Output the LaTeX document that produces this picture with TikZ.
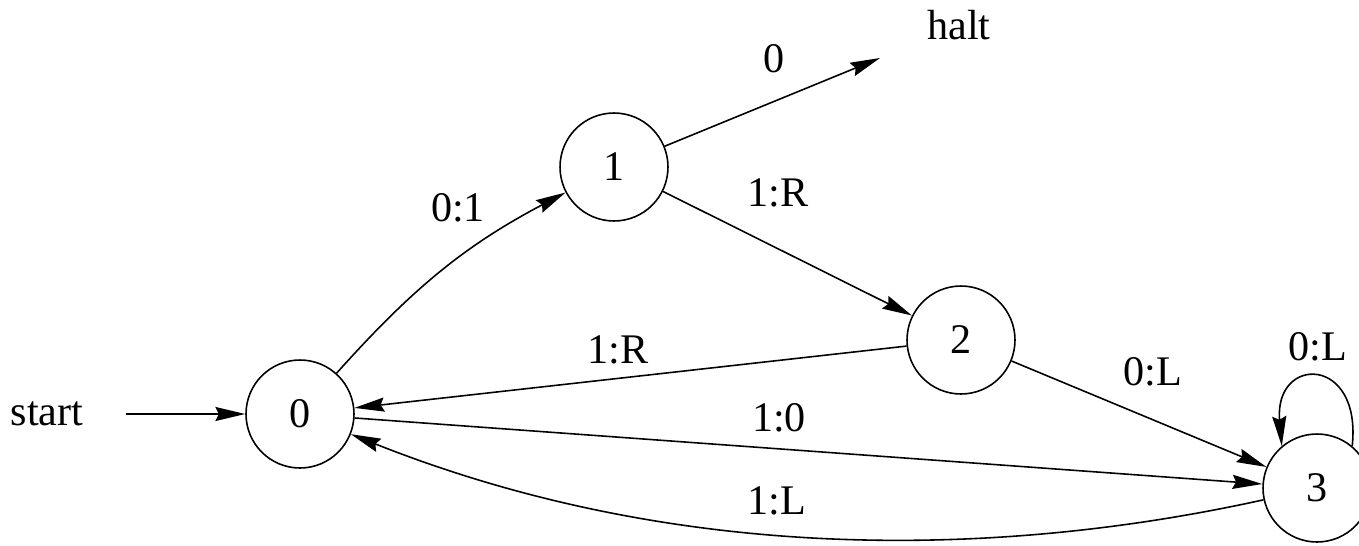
\documentclass[tikz,border=0pt]{standalone}
\usepackage{fontspec}
\setmainfont{Liberation Serif}
\usetikzlibrary{arrows.meta}
\begin{document}
\begin{tikzpicture}[x=0.02cm,y=-0.02cm,
  state/.style={draw,circle,line width=0.9pt,minimum size=2.16cm,inner sep=0pt,font=\fontsize{24}{28}\selectfont},
  lbl/.style={font=\fontsize{24}{28}\selectfont,inner sep=0pt},
  edge/.style={line width=0.9pt,-{Stealth[length=17pt,width=8pt,inset=2pt]}}
]
\useasboundingbox (0,0) rectangle (1359,545);
% states
\node[state] (n0) at (300,414) {0};
\node[state] (n1) at (614,167) {1};
\node[state] (n2) at (961,340) {2};
\node[state] (n3) at (1317,488) {3};
% free ends and plain texts
\node[lbl] (start) at (47,414) {start};
\node[lbl] (halt) at (959,25) {halt};
\coordinate (sbeg) at (126,414);
\coordinate (hend) at (880,58);
% connectors
\draw[edge] (sbeg) -- (n0);
\draw[edge] (n1) -- (hend);
\draw[edge] (n0) .. controls (412,289) and (464,246) .. (n1);
\draw[edge] (n1) -- (n2);
\draw[edge] (n2) -- (n0);
\draw[edge] (n0) -- (n3);
\draw[edge] (n2) -- (n3);
\draw[edge] (n3) .. controls (1000,558) and (680,565) .. (n0);
\draw[edge] (n3.50) .. controls (1362,355) and (1274,355) .. (n3.130);
% labels
\node[lbl] (l0) at (774,59) {0};
\node[lbl] (l01) at (458,208) {0:1};
\node[lbl] (l1R) at (778,193) {1:R};
\node[lbl] (l2R) at (618,350) {1:R};
\node[lbl] (l2L) at (1153,372) {0:L};
\node[lbl] (l10) at (779,418) {1:0};
\node[lbl] (l1L) at (777,501) {1:L};
\node[lbl] (l3L) at (1318,347) {0:L};
\end{tikzpicture}
\end{document}
